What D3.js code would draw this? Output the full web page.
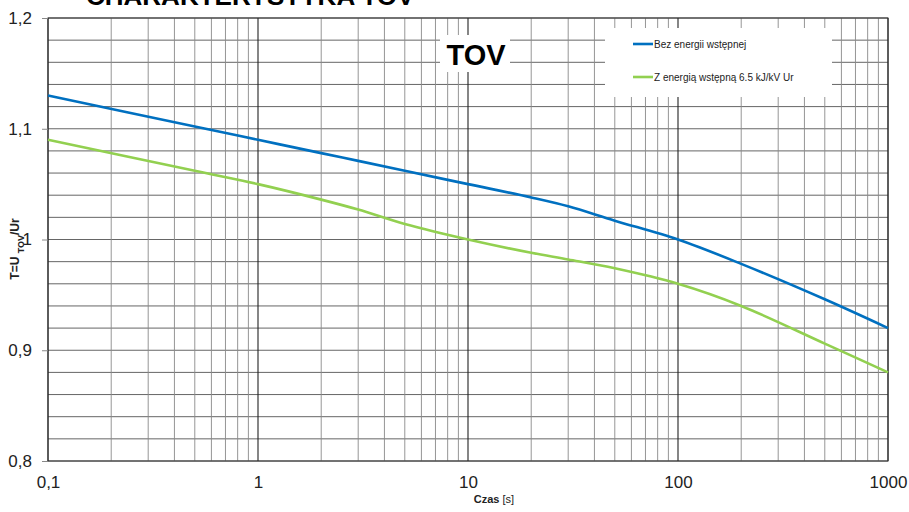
<!DOCTYPE html>
<html lang="pl">
<head>
<meta charset="UTF-8">
<script src="https://d3js.org/d3.v7.min.js"></script>
<title>Charakterystyka TOV</title>
<style>
  body { margin: 0; background: #fff; }
  svg { display: block; font-family: Arial, "Liberation Sans", sans-serif; }
</style>
</head>
<body>
<svg width="909" height="512"></svg>
<script>
// czas [s] i wartosci T
const czas = [0.1, 0.5, 1, 2, 3, 5, 10, 20, 30, 50, 100, 200, 500, 1000];
const bezEnergii = [1.13, 1.102, 1.09, 1.078, 1.071, 1.062, 1.05, 1.038, 1.03, 1.017, 1.0, 0.978, 0.946, 0.92];
const zEnergia = [1.09, 1.062, 1.05, 1.036, 1.027, 1.014, 1.0, 0.988, 0.982, 0.974, 0.96, 0.94, 0.906, 0.88];
const xTicks = [0.1, 1, 10, 100, 1000];
const yTicks = [0.8, 0.9, 1.0, 1.1, 1.2];
const seriesNames = ["Bez energii wstępnej", "Z energią wstępną 6.5 kJ/kV Ur"];
const seriesColors = ["#0070c0", "#92d050"];

const svg = d3.select("svg");
const pLeft = 48, pRight = 888, pTop = 18, pBottom = 461;

const x = d3.scaleLog().domain([0.1, 1000]).range([pLeft, pRight]);
const y = d3.scaleLinear().domain([0.8, 1.2]).range([pBottom, pTop]);

// siatka pozioma co 0.02
const hLines = d3.range(0, 21).map(i => 0.8 + i * 0.02);
svg.append("g").selectAll("line").data(hLines).enter().append("line")
  .attr("x1", pLeft).attr("x2", pRight)
  .attr("y1", d => y(d)).attr("y2", d => y(d))
  .attr("stroke", "#555").attr("stroke-width", 0.9);

// siatka pionowa
const minor = [];
[0.1, 1, 10, 100].forEach(d => { for (let k = 2; k <= 9; k++) minor.push(d * k); });
svg.append("g").selectAll("line").data(minor).enter().append("line")
  .attr("x1", d => x(d)).attr("x2", d => x(d))
  .attr("y1", pTop).attr("y2", pBottom)
  .attr("stroke", "#8a8a8a").attr("stroke-width", 0.9);
svg.append("g").selectAll("line").data(xTicks).enter().append("line")
  .attr("x1", d => x(d)).attr("x2", d => x(d))
  .attr("y1", pTop).attr("y2", pBottom)
  .attr("stroke", "#222").attr("stroke-width", 1.1);

// ramka
svg.append("rect").attr("x", pLeft).attr("y", pTop)
  .attr("width", pRight - pLeft).attr("height", pBottom - pTop)
  .attr("fill", "none").attr("stroke", "#333").attr("stroke-width", 1);

// osie
const fmt = d => String(+d.toFixed(1)).replace(".", ",");
const yAxis = svg.append("g").attr("transform", "translate(" + pLeft + ",0)")
  .call(d3.axisLeft(y).tickValues(yTicks).tickFormat(fmt).tickSize(6).tickPadding(10));
yAxis.select(".domain").remove();
yAxis.selectAll("line").attr("stroke", "#888");
yAxis.selectAll("text").style("font-size", "17px").attr("fill", "#222");

const xAxis = svg.append("g").attr("transform", "translate(0," + pBottom + ")")
  .call(d3.axisBottom(x).tickValues(xTicks).tickFormat(fmt).tickSize(0).tickPadding(15));
xAxis.select(".domain").remove();
xAxis.selectAll("text").style("font-size", "17px").attr("fill", "#222");

// krzywe
const line = d3.line().x((d, i) => x(czas[i])).y(d => y(d)).curve(d3.curveCatmullRom.alpha(0.5));
[bezEnergii, zEnergia].forEach((s, i) => {
  svg.append("path").datum(s).attr("d", line)
    .attr("fill", "none").attr("stroke", seriesColors[i]).attr("stroke-width", 2.6);
});

// etykieta TOV
svg.append("rect").attr("x", 440).attr("y", 35).attr("width", 70).attr("height", 37).attr("fill", "#fff");
svg.append("text").attr("x", 476).attr("y", 65).attr("text-anchor", "middle")
  .style("font-size", "29px").style("font-weight", "bold").text("TOV");

// legenda
svg.append("rect").attr("x", 605).attr("y", 28).attr("width", 227).attr("height", 69).attr("fill", "#fff");
seriesNames.forEach((n, i) => {
  const ly = 44 + i * 33;
  svg.append("line").attr("x1", 633).attr("x2", 653).attr("y1", ly).attr("y2", ly)
    .attr("stroke", seriesColors[i]).attr("stroke-width", 2.6);
  svg.append("text").attr("x", 654).attr("y", ly + 3.5)
    .style("font-size", "10px").attr("fill", "#222").text(n);
});

// tytul (przyciety u gory, jak w oryginale)
svg.append("text").attr("x", 86).attr("y", 5)
  .style("font-size", "26px").style("font-weight", "bold").text("CHARAKTERYSTYKA TOV");

// tytuly osi
const xt = svg.append("text").attr("x", 494).attr("y", 503).attr("text-anchor", "middle")
  .style("font-size", "11px").attr("fill", "#222");
xt.append("tspan").style("font-weight", "bold").text("Czas ");
xt.append("tspan").text("[s]");

const yt = svg.append("text").attr("transform", "translate(19,249) rotate(-90)")
  .attr("text-anchor", "middle").style("font-size", "12px").style("font-weight", "bold").attr("fill", "#222");
yt.append("tspan").text("T=U ");
yt.append("tspan").attr("dy", 4.5).style("font-size", "9px").text("TOV");
yt.append("tspan").attr("dy", -4.5).text("/Ur");
</script>
</body>
</html>
